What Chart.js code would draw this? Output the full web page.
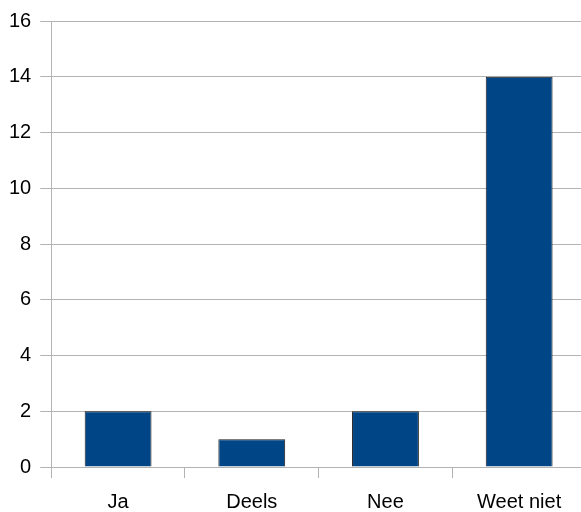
<!DOCTYPE html>
<html>
<head>
<meta charset="utf-8">
<script src="https://cdn.jsdelivr.net/npm/chart.js@4"></script>
<style>
  html, body { margin: 0; padding: 0; overflow: hidden; background: #fff; }
  #wrap { position: absolute; left: 0; top: 0; width: 586px; height: 512px; }
</style>
</head>
<body>
<div id="wrap"><canvas id="barChart"></canvas></div>
<script>
// antwoorden en aantallen
const categories = ['Ja', 'Deels', 'Nee', 'Weet niet'];
const counts = [2, 1, 2, 14];
const yMax = 16;
const yStep = 2;

const ctx = document.getElementById('barChart').getContext('2d');
const barChart = new Chart(ctx, {
  type: 'bar',
  data: {
    labels: categories,
    datasets: [{
      data: counts,
      backgroundColor: '#004586',
      borderColor: '#1c1c1c',
      borderWidth: 1,
      barPercentage: 0.5,
      categoryPercentage: 1
    }]
  },
  options: {
    responsive: true,
    maintainAspectRatio: false,
    animation: false,
    layout: { padding: { top: 9, left: 0, right: 0, bottom: -14 } },
    plugins: { legend: { display: false }, tooltip: { enabled: false } },
    scales: {
      x: {
        offset: true,
        grid: {
          offset: true,
          drawOnChartArea: false,
          drawTicks: true,
          tickLength: 11,
          color: '#b3b3b3'
        },
        border: { color: '#b3b3b3' },
        ticks: {
          color: '#000',
          padding: 12,
          font: { family: 'Liberation Sans', size: 20 }
        }
      },
      y: {
        min: 0,
        max: yMax,
        grid: { color: '#b3b3b3', tickLength: 11 },
        border: { color: '#b3b3b3' },
        ticks: {
          stepSize: yStep,
          color: '#000',
          padding: 9,
          font: { family: 'Liberation Sans', size: 20 }
        }
      }
    }
  }
});
</script>
</body>
</html>
